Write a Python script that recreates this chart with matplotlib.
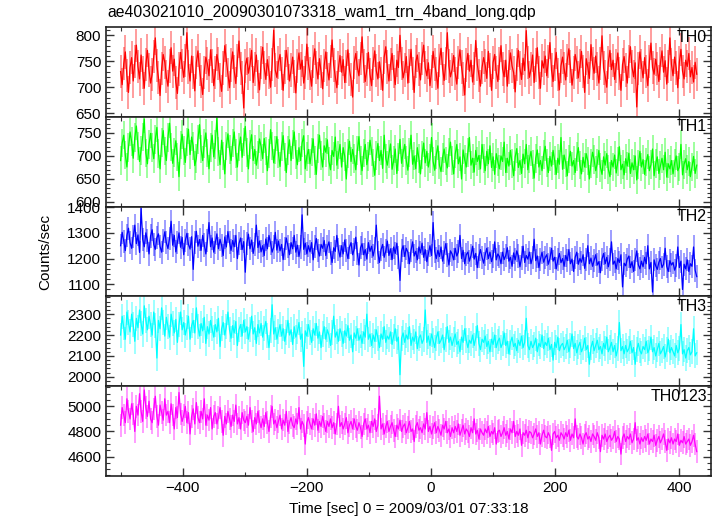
import numpy as np
import matplotlib
matplotlib.use("Agg")
import matplotlib.pyplot as plt
from matplotlib.ticker import MultipleLocator

plt.rcParams['font.family'] = ['Liberation Sans', 'DejaVu Sans']

title = "ae403021010_20090301073318_wam1_trn_4band_long.qdp"
xlabel = "Time [sec] 0 = 2009/03/01 07:33:18"
ylabel = "Counts/sec"
band_names = ["TH0", "TH1", "TH2", "TH3", "TH0123"]
band_colors = ["#ff0000", "#00ff00", "#0000ff", "#00ffff", "#ff00ff"]
time_first = -500.0
time_last = 428.0
errors = [32, 31, 45, 60, 90]

th0 = [
730,705,745,768,722,690,738,757,712,749,
781,740,716,762,729,698,744,771,733,708,
725,759,795,742,718,684,736,763,748,720,
702,741,776,731,754,709,688,735,767,742,
719,751,805,739,712,760,728,693,747,770,
734,711,686,729,758,745,722,772,741,703,
728,763,746,714,692,737,780,752,725,699,
743,768,731,707,751,789,736,718,660,741,
756,727,744,771,709,735,762,721,695,748,
777,738,715,753,729,700,744,810,733,719,
748,763,727,694,739,771,745,712,733,758,
720,689,741,766,735,752,708,728,783,745,
726,702,749,774,738,716,755,730,697,742,
768,735,714,750,791,743,721,699,737,761,
729,753,709,740,772,734,715,681,747,765,
738,722,756,797,741,711,734,767,725,703,
745,770,732,716,749,726,694,758,778,739,
712,744,765,731,705,752,738,800,746,718,
733,759,708,741,773,727,690,749,762,735,
714,756,781,738,722,747,703,730,769,744,
726,698,752,775,736,713,745,805,741,720,
734,761,727,706,748,772,739,716,685,743,
765,731,752,710,736,790,744,723,702,738,
757,742,717,769,733,694,748,763,729,711,
746,780,735,720,752,702,739,766,741,728,
691,744,771,737,715,756,732,809,748,719,
735,762,709,743,776,728,698,751,737,760,
722,749,786,733,711,744,767,725,695,741,
758,736,714,752,774,740,704,729,763,747,
718,742,769,731,690,755,738,717,782,745,
727,760,735,708,746,799,737,721,700,748,
771,734,752,715,741,766,726,694,744,759,
733,708,750,778,739,720,747,662,736,768,
742,718,757,730,703,749,785,738,725,754,
736,711,746,770,729,751,706,740,795,744,
722,758,737,699,748,773,731,716,752,740,
765,720,738,710,748,725,
]

th1 = [
690,728,745,702,676,718,752,731,695,740,
765,722,688,712,741,780,706,683,725,749,
718,694,736,762,705,672,729,755,711,690,
740,771,719,684,708,733,698,655,724,747,
712,686,730,758,703,741,722,679,695,736,
768,715,690,727,750,706,672,718,745,698,
725,783,710,681,734,700,661,722,748,714,
690,728,752,705,676,719,741,697,730,764,
708,672,725,746,690,714,680,702,737,721,
694,738,711,668,705,757,722,685,713,742,
705,677,720,744,698,664,712,735,690,725,
752,703,681,718,690,728,744,672,699,714,
683,709,737,690,660,716,745,701,676,722,
708,735,688,670,712,699,741,680,702,725,
676,718,699,650,705,732,688,714,695,670,
712,742,690,668,706,725,681,699,734,710,
685,658,701,727,690,712,673,745,695,680,
704,726,671,690,715,662,698,736,684,707,
725,690,669,708,745,682,700,672,718,694,
661,702,728,685,710,676,695,740,688,669,
703,722,680,666,697,715,689,674,708,730,
690,661,704,725,683,698,650,713,692,676,
707,740,680,695,665,712,688,701,672,725,
694,668,710,683,722,675,698,660,705,687,
672,700,688,730,664,695,678,712,684,657,
698,716,675,690,662,704,683,725,670,693,
710,681,652,695,713,676,690,668,703,721,
685,664,699,678,712,690,660,695,682,740,
671,702,685,657,693,710,678,690,664,699,
718,680,661,697,676,705,689,650,683,708,
692,668,684,712,675,660,698,680,705,671,
655,690,676,702,663,688,720,670,682,659,
694,678,706,662,685,670,700,648,681,710,
676,692,660,687,703,668,681,715,657,684,
698,662,679,695,670,708,654,683,672,690,
661,685,700,668,676,725,659,682,694,670,
688,655,676,699,662,680,
]

th2 = [
1250,1302,1268,1231,1290,1318,1262,1240,1285,1330,
1258,1292,1224,1395,1275,1246,1300,1270,1218,1288,
1312,1255,1236,1281,1296,1247,1225,1270,1304,1261,
1239,1278,1345,1252,1290,1226,1263,1300,1244,1282,
1215,1270,1298,1255,1237,1285,1158,1262,1306,1248,
1274,1232,1290,1253,1218,1270,1340,1246,1280,1225,
1262,1296,1238,1275,1250,1212,1284,1245,1305,1263,
1232,1270,1246,1290,1200,1258,1280,1235,1266,1147,
1260,1295,1238,1272,1220,1255,1330,1243,1268,1226,
1250,1212,1276,1238,1290,1260,1225,1245,1302,1233,
1268,1230,1255,1196,1240,1280,1248,1215,1262,1238,
1290,1225,1252,1208,1245,1370,1236,1260,1218,1250,
1226,1262,1195,1248,1278,1232,1210,1255,1240,1270,
1212,1245,1265,1220,1185,1242,1228,1290,1235,1206,
1250,1218,1272,1230,1200,1245,1262,1215,1236,1283,
1220,1175,1242,1258,1215,1235,1198,1262,1228,1248,
1210,1240,1330,1222,1185,1235,1255,1205,1230,1268,
1212,1238,1196,1245,1220,1260,1204,1115,1230,1250,
1208,1240,1225,1180,1232,1265,1210,1228,1195,1245,
1222,1260,1205,1235,1188,1218,1250,1212,1340,1228,
1200,1232,1208,1245,1190,1222,1258,1214,1175,1230,
1218,1195,1240,1210,1226,1290,1200,1232,1180,1215,
1225,1190,1212,1248,1198,1220,1165,1210,1235,1205,
1182,1215,1240,1200,1225,1188,1210,1265,1195,1218,
1208,1180,1225,1196,1212,1242,1190,1205,1170,1222,
1195,1230,1210,1168,1202,1248,1185,1212,1198,1225,
1180,1205,1275,1192,1210,1165,1198,1225,1186,1204,
1215,1178,1200,1240,1190,1205,1160,1195,1220,1184,
1200,1170,1212,1192,1235,1180,1198,1150,1205,1225,
1178,1200,1186,1215,1162,1195,1250,1180,1202,1170,
1192,1215,1175,1188,1145,1198,1220,1180,1205,1168,
1195,1265,1178,1190,1160,1200,1185,1215,1090,1182,
1172,1198,1210,1165,1188,1150,1195,1230,1176,1160,
1190,1168,1205,1180,1250,1160,1185,1070,1195,1172,
1158,1185,1200,1165,1178,1240,1170,1150,1192,1175,
1185,1155,1172,1245,1165,1190,1080,1178,1160,1195,
1150,1180,1170,1245,1155,1130,
]

th3 = [
2200,2290,2235,2180,2310,2260,2215,2300,2250,2170,
2280,2235,2320,2255,2205,2340,2270,2225,2290,2250,
2200,2310,2245,2090,2270,2230,2330,2260,2195,2285,
2240,2190,2300,2255,2210,2275,2165,2250,2310,2225,
2260,2200,2235,2290,2180,2245,2270,2210,2330,2240,
2195,2255,2220,2285,2160,2240,2205,2270,2230,2190,
2250,2215,2280,2145,2230,2260,2200,2240,2310,2225,
2185,2245,2210,2265,2150,2225,2250,2195,2270,2215,
2240,2180,2225,2290,2205,2235,2160,2250,2210,2255,
2190,2230,2265,2200,2140,2220,2345,2205,2235,2180,
2215,2250,2195,2230,2170,2210,2270,2200,2225,2155,
2240,2190,2215,2260,2180,2205,2050,2220,2195,2250,
2210,2165,2230,2200,2255,2185,2215,2140,2205,2240,
2180,2225,2200,2150,2210,2290,2190,2215,2170,2230,
2205,2160,2220,2195,2245,2175,2200,2120,2210,2185,
2230,2175,2200,2160,2215,2190,2300,2180,2205,2150,
2200,2170,2225,2185,2140,2205,2180,2240,2165,2195,
2180,2215,2155,2195,2230,2170,2190,2010,2185,2210,
2165,2200,2180,2240,2150,2190,2170,2215,2135,2185,
2200,2160,2180,2320,2165,2195,2150,2205,2175,2140,
2185,2215,2160,2175,2200,2130,2180,2240,2165,2190,
2150,2180,2205,2155,2170,2120,2190,2165,2230,2175,
2140,2175,2160,2200,2150,2185,2245,2160,2130,2180,
2165,2195,2145,2170,2120,2180,2155,2200,2140,2170,
2185,2140,2160,2210,2150,2170,2110,2165,2190,2145,
2160,2125,2175,2150,2195,2140,2165,2280,2150,2130,
2170,2140,2155,2185,2120,2160,2145,2200,2135,2165,
2150,2185,2130,2155,2080,2165,2140,2190,2125,2150,
2160,2130,2145,2175,2120,2150,2205,2135,2160,2115,
2145,2165,2120,2140,2185,2130,2150,2060,2140,2170,
2125,2150,2175,2130,2145,2110,2160,2135,2190,2120,
2140,2165,2120,2150,2100,2135,2260,2125,2145,2110,
2150,2120,2135,2170,2115,2140,2060,2130,2160,2125,
2110,2145,2130,2170,2115,2135,2190,2120,2140,2100,
2130,2160,2110,2125,2145,2095,2130,2180,2115,2140,
2120,2100,2150,2115,2135,2250,2110,2130,2090,2125,
2140,2105,2120,2230,2100,2115,
]

th0123 = [
4850,4990,4930,4870,5060,4960,4900,5020,4940,4800,
5000,4930,5100,4960,4880,5130,4990,4920,5040,4900,
4870,4980,5080,4920,4850,5010,4950,4890,5060,4930,
4960,4870,5020,4930,4820,4990,4910,5110,4940,4880,
4930,5000,4870,4950,4780,4920,4980,4860,5030,4910,
4870,4960,4900,5060,4850,4930,4890,4990,4820,4920,
4950,4860,4910,4990,4880,4770,4920,4860,4960,4900,
4840,4930,4880,5010,4860,4910,4820,4950,4890,4870,
4920,4850,4990,4880,4800,4910,4860,4960,4880,4830,
4900,4840,4950,4870,4800,4920,5000,4860,4890,4830,
4880,4930,4820,4890,4850,4960,4800,4870,4910,4850,
4830,4900,4860,4990,4820,4880,4850,4700,4870,4910,
4860,4820,4900,4850,4940,4810,4880,4840,4920,4860,
4800,4880,4840,4900,4830,4870,4780,4860,5000,4840,
4870,4820,4860,4910,4790,4850,4880,4820,4900,4840,
4810,4870,4830,4760,4860,4900,4820,4850,4790,4880,
4840,4900,4800,4850,5080,4820,4860,4780,4840,4880,
4800,4840,4870,4810,4760,4850,4820,4890,4800,4840,
4860,4790,4830,4880,4800,4820,4720,4840,4870,4810,
4830,4790,4860,4820,4950,4800,4840,4780,4830,4870,
4790,4840,4810,4770,4850,4820,4880,4790,4820,4760,
4830,4790,4840,4800,4860,4770,4810,4850,4780,4820,
4800,4760,4830,4790,4900,4780,4810,4740,4820,4790,
4770,4820,4790,4840,4760,4800,4780,4830,4700,4800,
4810,4760,4790,4830,4770,4800,4740,4820,4790,4880,
4760,4800,4770,4820,4690,4790,4770,4810,4750,4800,
4790,4750,4780,4820,4760,4790,4700,4770,4810,4760,
4750,4790,4760,4650,4780,4800,4750,4770,4730,4790,
4770,4740,4790,4760,4810,4730,4780,4750,4900,4760,
4740,4780,4750,4700,4770,4790,4740,4760,4720,4780,
4760,4730,4790,4750,4640,4770,4740,4780,4720,4750,
4770,4730,4750,4800,4720,4760,4740,4620,4750,4780,
4720,4760,4740,4780,4710,4740,4870,4730,4750,4700,
4750,4720,4760,4730,4780,4700,4740,4720,4770,4690,
4730,4760,4710,4740,4780,4720,4650,4740,4710,4750,
4700,4740,4720,4780,4690,4730,4710,4760,4700,4720,
4740,4690,4720,4770,4700,4640,
]

series = [th0, th1, th2, th3, th0123]
ylims = [(643, 816), (590, 785), (1053, 1402), (1955, 2385), (4446, 5160)]
ymajor = [50, 50, 100, 100, 200]
yminor = [10, 10, 20, 20, 50]

fig = plt.figure(figsize=(7.17, 5.16), dpi=100)
left, right, top, bottom = 106/717, 711/717, 1 - 27/516, 1 - 476/516
h = (top - bottom) / 5
axes = []
for i in range(5):
    ax = fig.add_axes([left, top - (i + 1) * h, right - left, h])
    axes.append(ax)

for i, ax in enumerate(axes):
    y = np.array(series[i], dtype=float)
    t = np.linspace(time_first, time_last, len(y))
    col = band_colors[i]
    ax.vlines(t, y - errors[i], y + errors[i], colors=col, alpha=0.45,
              linewidth=1.2, zorder=2)
    ax.plot(t, y, color=col, linewidth=0.9, zorder=3, clip_on=False)
    ax.set_xlim(-523.5, 451)
    ax.set_ylim(*ylims[i])
    ax.xaxis.set_major_locator(MultipleLocator(200))
    ax.xaxis.set_minor_locator(MultipleLocator(100))
    ax.yaxis.set_major_locator(MultipleLocator(ymajor[i]))
    ax.yaxis.set_minor_locator(MultipleLocator(yminor[i]))
    ax.tick_params(which='both', direction='in', top=True, right=True,
                   labelsize=11, color='#333333')
    ax.tick_params(which='major', length=6, width=1.0)
    ax.tick_params(which='minor', length=3, width=0.8)
    for s in ax.spines.values():
        s.set_linewidth(1.2)
        s.set_color('#222222')
        s.set_zorder(5)
    if i < 4:
        ax.tick_params(labelbottom=False)
    ax.text(0.993, 0.97, band_names[i], transform=ax.transAxes,
            ha='right', va='top', fontsize=11.5, zorder=6)

axes[-1].set_xlabel(xlabel, fontsize=11, labelpad=5)
fig.text(left + 0.002, 1 - 12/516, title, ha='left', va='center', fontsize=11.3)
fig.text(45/717, (top + bottom) / 2, ylabel, rotation=90, ha='center',
         va='center', fontsize=11)

fig.savefig("out.png", dpi=100)
